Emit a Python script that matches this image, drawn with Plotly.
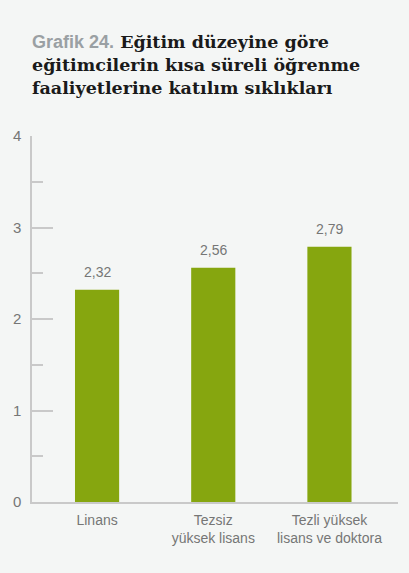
import plotly.graph_objects as go

categories = ["Linans", "Tezsiz<br>yüksek lisans", "Tezli yüksek<br>lisans ve doktora"]
values = [2.32, 2.56, 2.79]
y_ticks = [0, 1, 2, 3, 4]

BG = "#f4f6f5"
BAR = "#86a60f"
GRAY = "#767676"
AX = "#c9c9c9"

x_pos = list(range(len(categories)))

fig = go.Figure()
fig.add_trace(go.Bar(
    x=x_pos, y=values, width=0.38,
    marker=dict(color=BAR, line=dict(width=0)),
    hoverinfo="skip",
))

for xp, v in zip(x_pos, values):
    fig.add_annotation(
        x=xp, y=v, xref="x", yref="y",
        text=f"{v:.2f}".replace(".", ","),
        showarrow=False, yanchor="bottom", yshift=8,
        font=dict(family="Liberation Sans", size=14, color=GRAY),
    )

fig.update_layout(
    width=409, height=573,
    paper_bgcolor=BG, plot_bgcolor=BG,
    margin=dict(l=32, r=11, t=136, b=71),
    showlegend=False,
    title=dict(
        text=("<span style='font-family:Liberation Sans;color:#9aa0a3;font-size:18px'><b>Grafik 24.</b></span>"
              "<b> Eğitim düzeyine göre<br>"
              "eğitimcilerin kısa süreli öğrenme<br>"
              "faaliyetlerine katılım sıklıkları</b>"),
        x=32 / 409, xanchor="left", xref="container",
        y=1 - 48 / 573, yanchor="top", yref="container",
        pad=dict(l=0, r=0, t=0, b=0),
        font=dict(family="DejaVu Serif", size=17.5, color="#1a1a1a"),
    ),
    xaxis=dict(
        range=[-0.56, 2.59], automargin=False,
        tickmode="array", tickvals=x_pos, ticktext=categories,
        showline=True, linecolor=AX, linewidth=1.5,
        showgrid=False, zeroline=False, ticks="",
        ticklabelstandoff=4,
        tickfont=dict(family="Liberation Sans", size=14, color=GRAY),
        fixedrange=True,
    ),
    yaxis=dict(
        range=[0, 4], automargin=False,
        tickmode="array", tickvals=y_ticks,
        showline=True, linecolor=AX, linewidth=1.5,
        showgrid=False, zeroline=False,
        ticks="inside", ticklen=21, tickcolor=AX, tickwidth=1.5,
        minor=dict(dtick=0.5, ticks="inside", ticklen=11, tickcolor=AX, tickwidth=1.5),
        ticklabelstandoff=6,
        tickfont=dict(family="Liberation Sans", size=15, color=GRAY),
        fixedrange=True,
    ),
)

fig.write_html(
    "out.html",
    config={"displayModeBar": False},
    post_script="document.body.style.margin='0';document.body.style.background='%s';" % BG,
)
